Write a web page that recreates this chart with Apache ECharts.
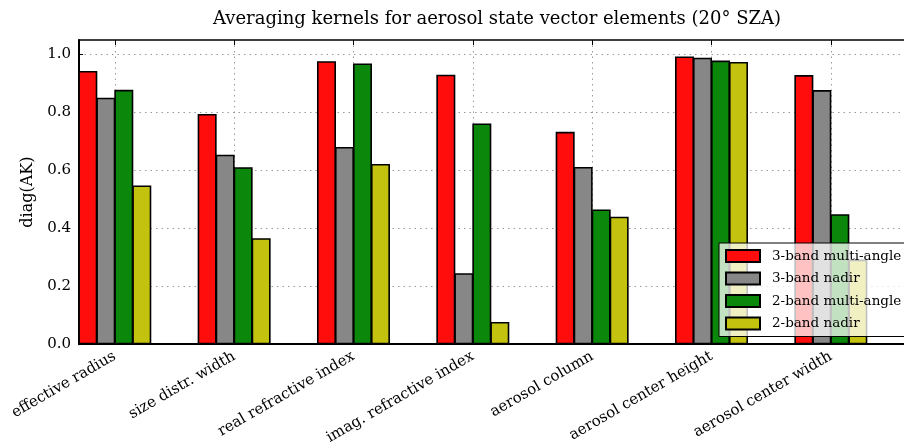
<!DOCTYPE html>
<html>
<head>
<meta charset="utf-8">
<script src="https://cdn.jsdelivr.net/npm/echarts@6/dist/echarts.min.js"></script>
<style>
  html, body { margin: 0; padding: 0; background: #fff; }
  #chart { width: 904px; height: 447px; }
</style>
</head>
<body>
<div id="chart"></div>
<script>
// State vector elements (x categories)
const categories = [
  'effective radius',
  'size distr. width',
  'real refractive index',
  'imag. refractive index',
  'aerosol column',
  'aerosol center height',
  'aerosol center width'
];

// Diagonal of the averaging kernel for each retrieval setup
const band3MultiAngle = [0.943, 0.795, 0.977, 0.930, 0.733, 0.993, 0.929];
const band3Nadir      = [0.851, 0.654, 0.681, 0.245, 0.612, 0.989, 0.877];
const band2MultiAngle = [0.878, 0.611, 0.969, 0.762, 0.465, 0.979, 0.449];
const band2Nadir      = [0.548, 0.366, 0.622, 0.077, 0.440, 0.974, 0.292];

const seriesNames = ['3-band multi-angle', '3-band nadir', '2-band multi-angle', '2-band nadir'];
const yTicks = [0, 0.2, 0.4, 0.6, 0.8, 1.0];

const FONT = '"DejaVu Serif", serif';
const positions = categories.map((_, i) => i);

function bars(name, values, color) {
  return {
    name: name,
    type: 'bar',
    xAxisIndex: 0,
    barWidth: 19,
    barGap: '-5.3%',
    data: values.map((v, i) => [i, v]),
    itemStyle: { color: color, borderColor: '#000', borderWidth: 1.6 },
    emphasis: { disabled: true }
  };
}

const chart = echarts.init(document.getElementById('chart'), null, { renderer: 'canvas' });

chart.setOption({
  animation: false,
  backgroundColor: '#fff',
  title: {
    text: 'Averaging kernels for aerosol state vector elements (20° SZA)',
    left: 492,
    textAlign: 'center',
    top: 5,
    textStyle: { fontFamily: FONT, fontSize: 18, fontWeight: 'normal', color: '#000' }
  },
  legend: {
    orient: 'vertical',
    left: 719,
    top: 243,
    padding: [6, 60, 6, 6],
    icon: 'rect',
    itemWidth: 34,
    itemHeight: 12,
    itemGap: 8.5,
    backgroundColor: 'rgba(255,255,255,0.75)',
    borderColor: '#000',
    borderWidth: 1,
    borderRadius: 0,
    textStyle: { fontFamily: FONT, fontSize: 13.5, color: '#000', padding: [0, 0, 0, 7] },
    data: seriesNames
  },
  grid: { left: 79, top: 40, right: 0, bottom: 102, containLabel: false },
  xAxis: [
    {
      type: 'value',
      position: 'bottom',
      min: -0.3,
      max: 6.613,
      axisLine: { show: true, onZero: false, lineStyle: { color: '#000', width: 2 } },
      axisTick: { show: true, inside: true, length: 5, customValues: positions, lineStyle: { color: '#000', width: 1 } },
      axisLabel: {
        show: true,
        customValues: positions,
        rotate: 30,
        margin: 11,
        fontFamily: FONT,
        fontSize: 15,
        color: '#000',
        formatter: v => categories[Math.round(v)] || ''
      },
      splitLine: { show: true, lineStyle: { color: '#999', width: 1, type: [1.5, 4] } }
    },
    {
      type: 'value',
      position: 'top',
      min: -0.3,
      max: 6.613,
      axisLine: { show: true, onZero: false, lineStyle: { color: '#000', width: 1.5 } },
      axisTick: { show: true, inside: true, length: 5, customValues: positions, lineStyle: { color: '#000', width: 1 } },
      axisLabel: { show: false },
      splitLine: { show: false }
    }
  ],
  yAxis: {
    type: 'value',
    min: 0,
    max: 1.05,
    name: 'diag(AK)',
    nameLocation: 'middle',
    nameRotate: 90,
    nameGap: 40,
    nameTextStyle: { fontFamily: FONT, fontSize: 16, color: '#000' },
    axisLine: { show: true, onZero: false, lineStyle: { color: '#000', width: 2 } },
    axisTick: { show: true, inside: true, length: 4, customValues: yTicks, lineStyle: { color: '#000', width: 1 } },
    axisLabel: {
      customValues: yTicks,
      margin: 8,
      fontFamily: FONT,
      fontSize: 15,
      color: '#000',
      formatter: v => v.toFixed(1)
    },
    splitLine: { show: true, lineStyle: { color: '#999', width: 1, type: [1.5, 4] } }
  },
  series: [
    bars(seriesNames[0], band3MultiAngle, '#ff0d0d'),
    bars(seriesNames[1], band3Nadir, '#878787'),
    bars(seriesNames[2], band2MultiAngle, '#0b870b'),
    bars(seriesNames[3], band2Nadir, '#c3c30f')
  ]
});
</script>
</body>
</html>
